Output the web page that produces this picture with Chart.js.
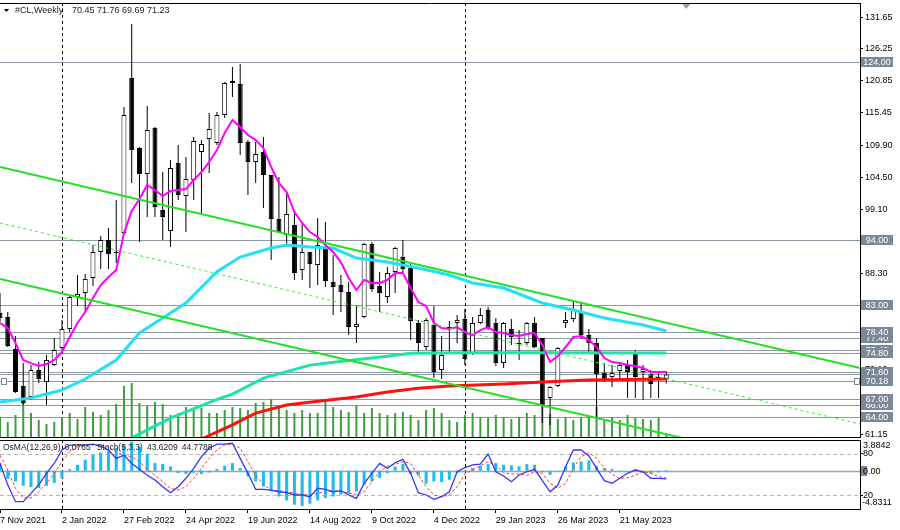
<!DOCTYPE html>
<html><head><meta charset="utf-8">
<script src="https://cdn.jsdelivr.net/npm/chart.js@4.4.0/dist/chart.umd.min.js"></script>
<style>
html,body{margin:0;padding:0;background:#fff;}
#wrap{position:relative;width:900px;height:530px;overflow:hidden;background:#fff;}
#c1{position:absolute;left:0;top:0;}
#c2{position:absolute;left:0;top:438px;}
</style></head><body>
<div id="wrap"><canvas id="c1" width="900" height="438"></canvas><canvas id="c2" width="900" height="92"></canvas></div>
<script>
// ---------- data ----------
const chartTitle = '#CL,Weekly';
const xMin = 0, xMax = 111;
const tickWeeks = [0, 8, 16, 24, 32, 40, 48, 56, 64, 72, 80];
const tickLabels = ['7 Nov 2021','2 Jan 2022','27 Feb 2022','24 Apr 2022','19 Jun 2022','14 Aug 2022','9 Oct 2022','4 Dec 2022','29 Jan 2023','26 Mar 2023','21 May 2023'];
const priceTicks = [131.65,126.25,120.85,115.45,109.90,104.50,99.10,93.70,88.30,82.90,77.50,72.10,66.70,61.15];
const priceMin = 60.65, priceMax = 134.02;

const open  = [81.61,80.93,75.52,69.26,67.40,71.97,69.94,72.81,75.69,78.90,
               84.31,84.99,87.52,91.92,93.95,91.92,95.13,121.33,109.50,105.11,
               112.88,99.02,95.47,106.97,101.39,104.09,108.83,111.02,110.35,115.08,
               120.83,120.32,110.52,107.14,108.83,104.94,97.50,94.79,96.49,88.88,
               91.92,89.72,92.43,86.85,86.34,85.16,79.24,80.93,93.27,86.17,
               84.31,88.54,91.07,89.21,79.92,75.86,79.58,71.97,78.90,79.92,
               80.59,74.84,79.92,82.11,79.92,73.15,78.90,76.37,76.54,79.92,
               77.38,67.23,69.26,79.92,80.59,81.95,77.89,76.54,71.46,70.78,
               71.80,72.81,74.84,71.63,71.29,70.28,70.45];
const high  = [84.99,81.78,77.72,73.15,72.81,73.32,74.51,77.38,80.42,84.65,
               88.03,88.20,93.10,94.63,95.98,100.71,116.43,130.47,109.67,116.60,
               113.05,105.45,107.47,110.01,107.98,111.36,110.85,115.42,115.59,120.66,
               123.20,123.70,110.85,110.52,111.36,104.94,104.60,102.06,98.68,96.83,
               91.92,97.67,97.00,91.41,88.03,86.85,82.79,93.44,93.61,88.54,
               89.38,92.77,93.95,90.06,80.42,80.76,82.79,77.72,80.25,81.27,
               82.28,80.93,82.45,82.62,80.76,80.08,80.59,78.73,80.08,80.93,
               77.38,69.26,75.86,81.78,83.64,83.47,78.90,77.38,73.15,72.81,
               73.32,73.66,75.35,72.81,71.97,71.46,71.76];
const low   = [80.08,75.86,68.08,66.05,66.90,69.77,66.05,72.65,75.35,78.40,
               82.79,81.78,86.17,89.05,89.05,90.06,94.79,103.59,93.61,97.84,
               97.84,93.95,92.77,100.71,95.30,100.71,98.17,105.28,110.01,114.57,
               118.12,108.32,101.56,103.59,99.36,90.57,95.13,92.77,87.19,87.19,
               85.83,86.34,86.00,81.27,81.78,77.89,76.54,80.76,85.16,81.78,
               83.30,84.99,88.37,77.04,75.01,75.35,70.62,70.45,75.01,76.54,
               72.81,74.51,79.75,78.73,72.65,72.31,76.20,73.66,76.20,75.69,
               63.01,62.67,69.09,79.07,80.08,77.21,74.84,64.02,69.94,69.09,
               70.28,67.23,67.23,66.90,67.23,67.23,69.69];
const close = [80.76,76.03,68.25,66.39,71.97,70.45,73.66,75.35,78.90,84.31,
               84.82,87.35,91.92,93.95,91.58,91.75,115.08,109.16,105.11,112.55,
               99.53,97.84,106.12,101.56,104.26,110.69,110.18,112.71,115.08,120.49,
               120.49,110.35,107.14,108.49,104.94,97.50,95.30,98.35,88.37,91.92,
               89.89,93.10,87.02,86.00,85.16,79.24,79.75,93.27,85.66,84.99,
               88.37,92.60,89.05,80.25,76.54,80.42,71.63,74.51,79.24,80.42,
               73.83,79.92,81.27,79.24,73.15,79.92,77.55,76.54,79.92,75.86,
               66.05,69.09,75.69,80.42,82.28,77.89,76.54,71.29,70.45,71.46,
               72.81,71.63,70.78,72.14,69.60,70.78,71.23];
const volume = [20,15,22,39,24,17,13,15,20,24,18,30,25,22,27,33,51,54,34,31,
                35,33,22,24,30,28,29,24,24,27,30,29,27,34,35,38,29,27,24,27,
                24,24,37,30,27,25,32,24,29,24,22,24,25,22,17,27,29,24,17,15,
                22,24,20,19,22,20,18,20,24,22,32,23,18,20,17,19,20,30,17,20,
                17,22,19,18,17,19,4];
const volumeMax = 434;

const maFast = [79.92,79.07,76.54,73.66,73.15,72.65,72.99,73.66,75.01,77.55,
                79.92,81.78,84.14,86.34,87.69,88.88,95.13,98.85,100.88,103.25,
                102.40,101.39,102.23,102.40,102.57,104.09,105.45,107.14,109.16,112.04,
                114.24,113.05,111.70,110.85,109.50,106.29,103.59,102.06,98.68,96.83,
                95.30,94.46,93.10,91.92,90.23,87.52,85.50,87.19,86.68,86.68,
                87.19,88.37,88.37,85.83,83.47,82.79,79.92,79.07,78.90,79.24,
                78.40,77.89,78.73,79.24,78.40,78.23,77.89,77.72,78.06,78.23,
                76.20,73.32,74.34,75.86,77.55,77.72,77.04,75.86,74.00,73.32,
                73.15,72.81,72.65,72.31,71.63,71.63,71.63];
const maCyanWeeks = [0,4,8,11,15,18,21,24,28,31,35,37,40,43,46,50,54,58,61,65,70,74,78,83,86];
const maCyan      = [66.56,67.24,68.59,70.45,73.66,78.23,80.76,83.30,88.60,91.07,92.60,93.10,92.77,92.60,90.90,90.23,89.21,88.03,86.68,85.83,83.30,82.11,80.76,79.58,78.56];
const maAquaWeeks = [16,17,22,28,30,34,40,45,50,53,60,70,86];
const maAqua      = [59.60,60.50,63.85,67.00,67.90,70.60,72.80,73.60,74.30,74.80,74.90,74.90,74.84];
const maRedWeeks  = [26,30,33,37,41,46,50,54,58,65,70,76,86];
const maRed       = [60.30,62.70,64.70,66.05,66.70,67.40,68.25,68.90,69.26,69.60,69.94,70.28,70.45];

const channelWeeks = [0, 111];
const channelUpper = [106.29, 72.31];
const channelMid   = [96.83, 62.84];
const channelLower = [87.35, 53.49];

const levels = [124.00, 94.00, 83.00, 78.40, 77.40, 75.40, 74.80, 71.60, 71.23, 70.18, 67.00, 66.00, 64.00];
const levelLabelsBack  = [77.40, 75.40, 71.60, 66.00];
const levelLabelsFront = [124.00, 94.00, 83.00, 78.40, 74.80, 70.18, 67.00, 64.00];
const markedLevel = 70.18;
const separatorWeeks = [8, 60];

const osma = [0.97,-1.01,-1.35,-1.89,-2.06,-2.18,-1.89,-1.55,-0.92,0.21,
              0.76,1.39,2.02,2.31,2.56,2.87,3.28,3.70,3.07,2.15,
              0.97,0.85,0.54,-0.29,-0.42,-0.25,-0.42,-0.21,0.21,0.63,
              0.97,0.34,-0.72,-1.35,-1.98,-2.61,-3.25,-3.75,-4.29,-4.45,
              -4.17,-3.75,-3.45,-3.25,-3.03,-2.91,-2.61,-1.77,-1.35,-0.92,
              -0.29,0.54,0.85,-0.42,-0.60,-1.64,-1.35,-1.43,-1.14,-0.29,
              -0.21,0.34,0.63,0.84,0.97,0.76,0.67,0.55,0.84,0.76,
              -0.17,-0.51,0.05,0.55,1.05,1.18,1.30,0.63,0.34,0.21,
              0.05,-0.05,0.21,-0.21,-0.29,-0.21,0.0765];
const stochMain = [66,35,10.6,10.6,22.7,35,51.7,66,85.5,92.7,
                   92.7,92.7,94,91,85.5,73.4,78,66,57.5,49,
                   42,32.3,23.6,32.3,44.5,59,75.8,88,94,94,
                   95.2,73.4,51.7,28.5,28.5,27.5,25,23.6,20.3,20.3,
                   17.8,30,28.5,25,26.5,20.3,15.5,37.2,51.7,66,
                   59,67,72,51.7,23.6,20.3,14,17.8,25,54,
                   60,63.8,65,79.7,54,47.8,39.6,49.3,54,57.5,
                   41,25,34.8,61.3,85.5,85.5,76.8,59,41,37.2,
                   44.5,51.7,56.5,54,44.5,44.5,43.6209];
const stochSignal = [78,56.5,30,16,16,25,37,51.7,68.5,83,
                     90,92.7,92.7,92.7,89.4,83,78,75.8,68.5,57.5,
                     49,39.6,30,27.5,32.3,44.5,59,73.4,85.5,92.7,
                     94,88,68.5,49,35,27.5,26.5,25,22.7,21,
                     20.3,22.7,25,26,25,23.6,20.3,25,39.6,54,
                     62.3,64.7,68.5,66,49,32.3,20.3,17.8,20.3,32.3,
                     50.7,56.5,62.3,68.5,63.8,52.6,50.7,50.7,48.8,54,
                     51.7,37.2,30,37.2,59,75.8,81.6,73.4,59,50.7,
                     44,45.4,49,54,51.7,47,44.7788];
const osmaMin = -4.8311, osmaMax = 3.8842;
const stochLevels = [80, 20];

// ---------- helpers ----------
const FONT = 'Liberation Sans';
const pts = (ws, vs) => ws.map((w, i) => ({x: w, y: vs[i]}));
const series = vs => vs.map((v, i) => ({x: i, y: v}));
const last = open.length - 1;

const mainDeco = {
  id: 'mainDeco',
  beforeDatasetsDraw(chart) {
    const {ctx, chartArea: a, scales} = chart;
    ctx.save();
    ctx.beginPath(); ctx.rect(a.left, a.top, a.right - a.left, a.bottom - a.top); ctx.clip();
    ctx.lineWidth = 1; ctx.strokeStyle = '#8d98a5';
    levels.forEach(v => {
      const y = Math.round(scales.y.getPixelForValue(v)) + 0.5;
      ctx.beginPath(); ctx.moveTo(a.left, y); ctx.lineTo(a.right, y); ctx.stroke();
    });
    ctx.strokeStyle = '#000'; ctx.setLineDash([3, 3]);
    separatorWeeks.forEach(w => {
      const x = Math.round(scales.x.getPixelForValue(w)) + 0.5;
      ctx.beginPath(); ctx.moveTo(x, a.top); ctx.lineTo(x, a.bottom); ctx.stroke();
    });
    ctx.restore();
  },
  afterDraw(chart) {
    const {ctx, chartArea: a, scales} = chart;
    ctx.save();
    ctx.strokeStyle = '#000'; ctx.lineWidth = 1;
    ctx.beginPath();
    ctx.moveTo(a.left, a.top + 0.5); ctx.lineTo(a.right + 0.5, a.top + 0.5);
    ctx.lineTo(a.right + 0.5, a.bottom + 0.5); ctx.lineTo(a.left, a.bottom + 0.5);
    ctx.stroke();
    ctx.font = '9px "' + FONT + '"'; ctx.textAlign = 'center'; ctx.textBaseline = 'middle';
    const bx = scales.y.left + 1;
    [...levelLabelsBack, ...levelLabelsFront].forEach(v => {
      const y = scales.y.getPixelForValue(v);
      ctx.fillStyle = '#7b8898';
      ctx.fillRect(bx, Math.round(y) - 5, 32, 10);
      ctx.fillStyle = '#ffffff';
      ctx.fillText(v.toFixed(2), bx + 16, Math.round(y) + 0.5);
    });
    const my = Math.round(scales.y.getPixelForValue(markedLevel)) + 0.5;
    ctx.strokeStyle = '#7b8898'; ctx.fillStyle = '#fff';
    [a.left + 1, a.right - 6].forEach(x => { ctx.fillRect(x, my - 3, 5, 6); ctx.strokeRect(x + 0.5, my - 3, 5, 6); });
    ctx.fillStyle = '#000';
    ctx.beginPath(); ctx.moveTo(4, 9); ctx.lineTo(9, 9); ctx.lineTo(6.5, 12); ctx.closePath(); ctx.fill();
    ctx.textAlign = 'left';
    ctx.fillStyle = '#222';
    ctx.fillText(chartTitle, 15, 11);
    ctx.fillText([open[last], high[last], low[last], close[last]].map(v => v.toFixed(2)).join(' '), 72, 11);
    const sx = a.left + (a.right - a.left) * 0.798;
    ctx.fillStyle = '#a0a0a0';
    ctx.beginPath(); ctx.moveTo(sx - 4, a.top + 1); ctx.lineTo(sx + 4, a.top + 1); ctx.lineTo(sx, a.top + 6); ctx.closePath(); ctx.fill();
    ctx.restore();
  }
};

const subDeco = {
  id: 'subDeco',
  beforeDatasetsDraw(chart) {
    const {ctx, chartArea: a, scales} = chart;
    ctx.save();
    ctx.lineWidth = 1; ctx.strokeStyle = '#b8b8b8'; ctx.setLineDash([4, 3]);
    stochLevels.forEach(v => {
      const y = Math.round(scales.ys.getPixelForValue(v)) + 0.5;
      ctx.beginPath(); ctx.moveTo(a.left, y); ctx.lineTo(a.right, y); ctx.stroke();
    });
    ctx.setLineDash([]); ctx.strokeStyle = '#a0a4a8'; ctx.lineWidth = 1.5;
    const zy = Math.round(scales.yo.getPixelForValue(0)) + 0.5;
    ctx.beginPath(); ctx.moveTo(a.left, zy); ctx.lineTo(a.right, zy); ctx.stroke();
    ctx.lineWidth = 1; ctx.strokeStyle = '#000'; ctx.setLineDash([3, 3]);
    separatorWeeks.forEach(w => {
      const x = Math.round(scales.x.getPixelForValue(w)) + 0.5;
      ctx.beginPath(); ctx.moveTo(x, a.top); ctx.lineTo(x, a.bottom); ctx.stroke();
    });
    ctx.restore();
  },
  afterDraw(chart) {
    const {ctx, chartArea: a, scales} = chart;
    ctx.save();
    ctx.strokeStyle = '#000'; ctx.lineWidth = 1;
    ctx.beginPath(); ctx.moveTo(a.left, a.top + 0.5); ctx.lineTo(a.right + 0.5, a.top + 0.5); ctx.stroke();
    ctx.font = '9px "' + FONT + '"'; ctx.textBaseline = 'middle'; ctx.textAlign = 'left';
    const lx = scales.ys.left + 3;
    ctx.fillStyle = '#000';
    ctx.fillText(osmaMax.toFixed(4), lx, a.top + 5.5);
    ctx.fillText(osmaMin.toFixed(4), lx - 1, a.bottom - 6);
    const zy = Math.round(scales.yo.getPixelForValue(0));
    ctx.fillStyle = '#7b8898'; ctx.fillRect(scales.ys.left + 1, zy - 5, 6, 10);
    ctx.fillStyle = '#000'; ctx.fillText((0).toFixed(2), lx, zy + 0.5);
    // sub header, pieces placed one after another
    ctx.font = '8.5px "' + FONT + '"';
    ctx.fillStyle = '#222';
    const parts = ['OsMA(12,26,9)', osma[last].toFixed(4).replace('.', ','), '', 'Stoch(5,3,3)',
                   stochMain[last].toFixed(4), stochSignal[last].toFixed(4)];
    let tx = 3;
    parts.forEach(p => {
      if (p) { ctx.fillText(p, tx, a.top + 7.5); tx += ctx.measureText(p).width + 4; }
      else { tx += 2; }
    });
    ctx.restore();
  }
};

// ---------- main chart ----------
const bodyColors = open.map((o, i) => close[i] >= o ? '#ffffff' : '#000000');
const lineDs = (data, color, width, order, extra) => Object.assign({
  type: 'line', data, borderColor: color, borderWidth: width, pointRadius: 0,
  tension: 0, fill: false, clip: 0, order, yAxisID: 'y'
}, extra || {});

new Chart(document.getElementById('c1'), {
  type: 'bar',
  data: {
    datasets: [
      {type: 'bar', data: series(volume), yAxisID: 'yv', backgroundColor: '#3f9c3f',
       maxBarThickness: 2, grouped: false, order: 20, clip: 0},
      {type: 'bar', data: low.map((l, i) => ({x: i, y: [l, high[i]]})), yAxisID: 'y',
       backgroundColor: '#000', maxBarThickness: 1, grouped: false, order: 12, clip: 0,
       borderSkipped: false},
      {type: 'bar', data: open.map((o, i) => ({x: i, y: [o, close[i]]})), yAxisID: 'y',
       backgroundColor: bodyColors, borderColor: '#000', borderWidth: 1, borderSkipped: false,
       maxBarThickness: 5, grouped: false, order: 11, clip: 0},
      lineDs(pts(maRedWeeks, maRed), '#ff1010', 3, 6),
      lineDs(pts(maAquaWeeks, maAqua), '#1ee3a8', 3, 5),
      lineDs(pts(maCyanWeeks, maCyan), '#22e0f5', 3, 4),
      lineDs(series(maFast), '#ff00ff', 2, 3),
      lineDs(pts(channelWeeks, channelMid), '#33ee33', 1, 2, {borderDash: [3, 3]}),
      lineDs(pts(channelWeeks, channelUpper), '#22e022', 2, 1),
      lineDs(pts(channelWeeks, channelLower), '#22e022', 2, 1)
    ]
  },
  options: {
    responsive: false, animation: false, devicePixelRatio: 1,
    layout: {padding: {top: 3, bottom: 1, left: 0, right: 0}},
    plugins: {legend: {display: false}, tooltip: {enabled: false}},
    scales: {
      x: {type: 'linear', min: xMin, max: xMax, display: false, offset: false, grid: {offset: false}},
      y: {
        type: 'linear', position: 'right', min: priceMin, max: priceMax,
        afterBuildTicks: s => { s.ticks = priceTicks.map(v => ({value: v})); },
        afterFit: s => { s.width = 40; s.paddingTop = 0; s.paddingBottom = 0; },
        ticks: {autoSkip: false, padding: 2, color: '#000', font: {family: FONT, size: 9},
                callback: v => Number(v).toFixed(2)},
        grid: {drawOnChartArea: false, drawTicks: true, tickLength: 3, color: '#000'},
        border: {display: true, color: '#000'}
      },
      yv: {type: 'linear', display: false, min: 0, max: volumeMax}
    }
  },
  plugins: [mainDeco]
});

// ---------- sub chart ----------
new Chart(document.getElementById('c2'), {
  type: 'bar',
  data: {
    datasets: [
      {type: 'bar', data: series(osma), yAxisID: 'yo', backgroundColor: '#1cbcf0',
       maxBarThickness: 3, grouped: false, order: 5, clip: 0},
      {type: 'line', data: series(stochSignal), yAxisID: 'ys', borderColor: '#ff3a3a',
       borderWidth: 1, borderDash: [3, 2], pointRadius: 0, tension: 0, order: 2, clip: 0},
      {type: 'line', data: series(stochMain), yAxisID: 'ys', borderColor: '#3535ff',
       borderWidth: 1.3, pointRadius: 0, tension: 0, order: 1, clip: 0}
    ]
  },
  options: {
    responsive: false, animation: false, devicePixelRatio: 1,
    layout: {padding: {top: 2, bottom: 0, left: 0, right: 0}},
    plugins: {legend: {display: false}, tooltip: {enabled: false}},
    scales: {
      x: {
        type: 'linear', min: xMin, max: xMax, offset: false,
        afterBuildTicks: s => { s.ticks = tickWeeks.map(v => ({value: v})); },
        afterFit: s => { s.height = 21; s.paddingLeft = 0; s.paddingRight = 0; },
        ticks: {align: 'start', autoSkip: false, maxRotation: 0, minRotation: 0, padding: 2,
                color: '#000', font: {family: FONT, size: 9},
                callback: (v, i) => tickLabels[i]},
        grid: {drawOnChartArea: false, drawTicks: true, tickLength: 4, color: '#000', offset: false},
        border: {display: true, color: '#000'}
      },
      ys: {
        type: 'linear', position: 'right', min: 0, max: 100,
        afterBuildTicks: s => { s.ticks = stochLevels.map(v => ({value: v})); },
        afterFit: s => { s.width = 40; s.paddingTop = 0; s.paddingBottom = 0; },
        ticks: {autoSkip: false, padding: 0, color: '#000', font: {family: FONT, size: 9}},
        grid: {drawOnChartArea: false, drawTicks: true, tickLength: 3, color: '#000'},
        border: {display: true, color: '#000'}
      },
      yo: {type: 'linear', display: false, min: osmaMin, max: osmaMax}
    }
  },
  plugins: [subDeco]
});
</script>
</body></html>
